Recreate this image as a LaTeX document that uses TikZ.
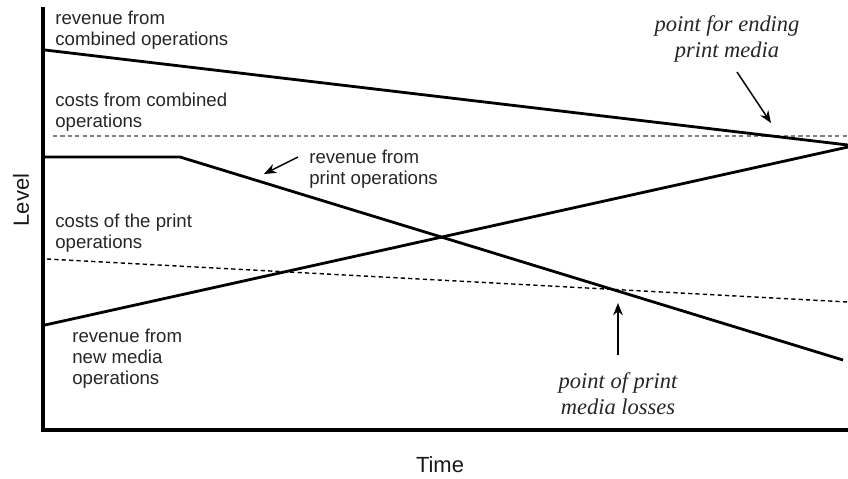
\documentclass[tikz,border=0pt]{standalone}
\usepackage{fontspec}
\setmainfont{Liberation Sans}
\newfontfamily\notefont{Liberation Serif}
\usetikzlibrary{arrows.meta}

\begin{document}
\begin{tikzpicture}[x=0.02cm, y=-0.02cm,
        axisline/.style={line width=2.8pt},
        curve/.style={line width=1.6pt},
        costline/.style={line width=0.8pt, dash pattern=on 2.4pt off 1.8pt},
        pointer/.style={line width=0.8pt, -{Stealth[length=7pt, width=5.5pt]}},
        lbl/.style={anchor=north west, inner sep=0pt, align=left, text=black!85, font=\fontsize{10.6}{11.9}\selectfont},
        note/.style={anchor=north, inner sep=0pt, align=center, text=black!85, font=\notefont\itshape\fontsize{12.8}{14.7}\selectfont},
        axislabel/.style={inner sep=0pt, text=black!90, font=\fontsize{12.5}{14}\selectfont}]
        \useasboundingbox (0,0) rectangle (848,478);
        % Axes
        \coordinate (top) at (43,7);
        \coordinate (origin) at (43,430);
        \coordinate (right) at (848,430);
        \draw[axisline] (top) -- (origin) -- (right);
        \node[axislabel, rotate=90] (level) at (21,200) {Level};
        \node[axislabel] (time) at (440,465) {Time};
        % Costs
        \coordinate (combcostA) at (53,136);
        \coordinate (combcostB) at (848,136);
        \coordinate (printcostA) at (47,259);
        \coordinate (printcostB) at (848,302);
        \draw[costline, gray] (combcostA) -- (combcostB);
        \draw[costline] (printcostA) -- (printcostB);
        % Revenues
        \coordinate (combA) at (45,50);
        \coordinate (combB) at (848,145);
        \coordinate (printA) at (45,157);
        \coordinate (printK) at (180,157);
        \coordinate (printB) at (843,360);
        \coordinate (newA) at (45,325);
        \coordinate (newB) at (848,147);
        \draw[curve] (combA) -- (combB);
        \draw[curve] (printA) -- (printK) -- (printB);
        \draw[curve] (newA) -- (newB);
        % Labels
        \node[lbl] (combrev) at (55,11) {revenue from\\combined operations};
        \node[lbl] (combcost) at (55,93) {costs from combined\\operations};
        \node[lbl] (printcost) at (55,214) {costs of the print\\operations};
        \node[lbl] (newrev) at (72,329) {revenue from\\new media\\operations};
        \node[lbl] (printrev) at (309,150) {revenue from\\print operations};
        \node[note] (ending) at (727,15) {point for ending\\print media};
        \node[note] (losses) at (618,372) {point of print\\media losses};
        % Pointers
        \coordinate (endtail) at (737,72);
        \coordinate (endtip) at (771,123);
        \coordinate (printtail) at (298,157);
        \coordinate (printtip) at (264,174);
        \coordinate (losstail) at (618,355);
        \coordinate (losstip) at (618,303);
        \draw[pointer] (endtail) -- (endtip);
        \draw[pointer] (printtail) -- (printtip);
        \draw[pointer] (losstail) -- (losstip);
    \end{tikzpicture}
\end{document}
